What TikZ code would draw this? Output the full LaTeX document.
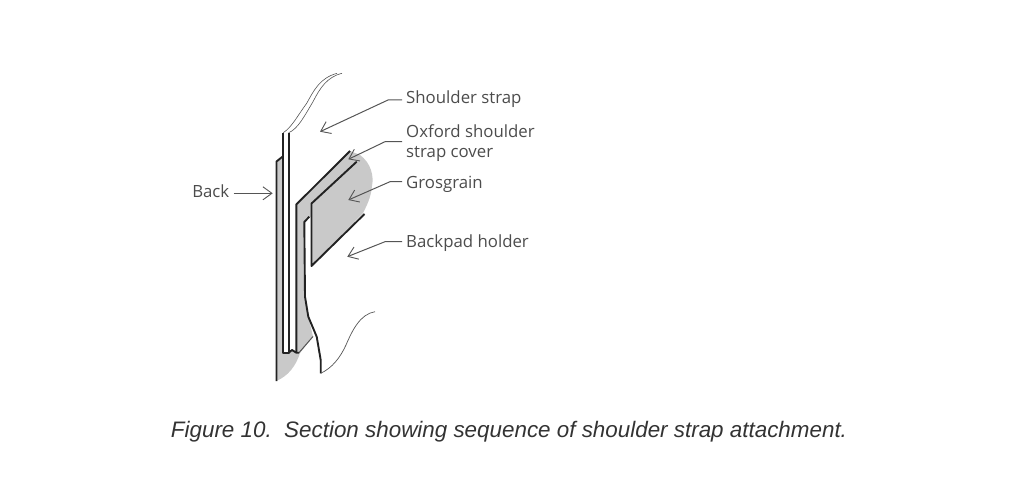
\documentclass[tikz,border=0pt]{standalone}
\usepackage{fontspec}
\setmainfont{Open Sans}
\newfontfamily\capfont{Liberation Sans}
\usetikzlibrary{arrows.meta}
\definecolor{cloth}{HTML}{C9C9C9}
\definecolor{ink}{HTML}{222222}
\definecolor{leadc}{HTML}{555555}
\tikzset{
  seam/.style={draw=ink,line width=1.9pt,line join=round},
  lbl/.style={right,inner sep=0pt,text=black!70,font=\fontsize{16.8}{20}\selectfont,align=left},
  lead/.style={draw=leadc,line width=1pt,-{Straight Barb[length=9pt,width=13pt,line width=0.9pt]}}
}
\begin{document}
\begin{tikzpicture}[x=1pt,y=-1pt]
\useasboundingbox (0,0) rectangle (1024,484);
% cloth
\fill [cloth] (276.5,161.5) -- (283,156.5) -- (283,352.5) -- (288.7,352.7) -- (292,350) -- (296,352.5) -- (300,353) .. controls (296,366) and (288,376) .. (276.5,381) -- cycle;
\fill [cloth] (296.5,204) -- (350,151) -- (360,155) .. controls (371,163) and (374,176) .. (372,186) .. controls (371,198) and (366,207) .. (363,213) -- (311.5,266) -- (311.5,217) -- (309,217) -- (304.3,222) -- (305,296.7) -- (308.3,316.7) -- (313,336.5) -- (300,353) -- (296.5,352.5) -- cycle;
% back and strap
\draw [seam] (282.7,156.5) -- (276.5,161.5) -- (276.5,381);
\draw [seam] (283.3,132.7) -- (283.3,352.7) -- (288.7,352.7) -- (288.7,132.7);
\draw [seam] (296.3,352.7) -- (296.3,204.5) -- (350,151);
\draw [seam] (288.7,352.7) -- (292,350) -- (296.3,352.7) -- (299,352.7);
\draw [draw=leadc,line width=1pt] (299,352.7) -- (313,336.5);
% holder
\draw [seam] (309.3,216.7) -- (304.3,222) -- (305,296.7) -- (308.3,316.7) -- (316.7,336.7) -- (320.7,360) -- (320.7,373.3);
\draw [seam] (356.7,161.7) -- (311.5,203.5) -- (311.5,266) -- (364.5,214);
% loose ends
\draw [draw=leadc,line width=0.6pt] (283.3,132.7) .. controls (292,127) and (298,115) .. (306.7,103.3) .. controls (314,90) and (320,78) .. (337,73.3);
\draw [draw=leadc,line width=0.6pt] (288.7,132.7) .. controls (298,129) and (305,115) .. (313,101.7) .. controls (320,88) and (327,77) .. (342,73.3);
\draw [draw=leadc,line width=0.7pt] (320.7,373.3) .. controls (332,368) and (340,358) .. (346,345) .. controls (352,331) and (360,314) .. (375,311.7);
% labels
\node [lbl] (strap) at (406,99) {Shoulder strap};
\node [lbl] (oxford) at (406,143) {Oxford shoulder\\strap cover};
\node [lbl] (grain) at (406,184) {Grosgrain};
\node [lbl] (holder) at (406,243) {Backpad holder};
\node [lbl,left] (back) at (229.5,191) {Back};
\node [inner sep=0pt,text=black!80,font=\capfont\itshape\fontsize{22.4}{26}\selectfont] (cap) at (509,432) {Figure 10.\ \ Section showing sequence of shoulder strap attachment.};
% arrow ends
\coordinate (strapend) at (320,131.7);
\coordinate (oxfordend) at (348.3,159.3);
\coordinate (grainend) at (348.3,200);
\coordinate (holderend) at (347.3,256.7);
\coordinate (backend) at (272.7,193.3);
% leaders
\draw [lead] (strap.west) ++(-4,1) -- ++(-14,0) -- (strapend);
\draw [lead] (oxford.west) ++(-4,-1.3) -- ++(-17,0) -- (oxfordend);
\draw [lead] (grain.west) ++(-4,-2.3) -- ++(-12,0) -- (grainend);
\draw [lead] (holder.west) ++(-4,-1.3) -- ++(-17,0) -- (holderend);
\draw [lead] (back.east) ++(4,2.3) -- (backend);
\end{tikzpicture}
\end{document}
